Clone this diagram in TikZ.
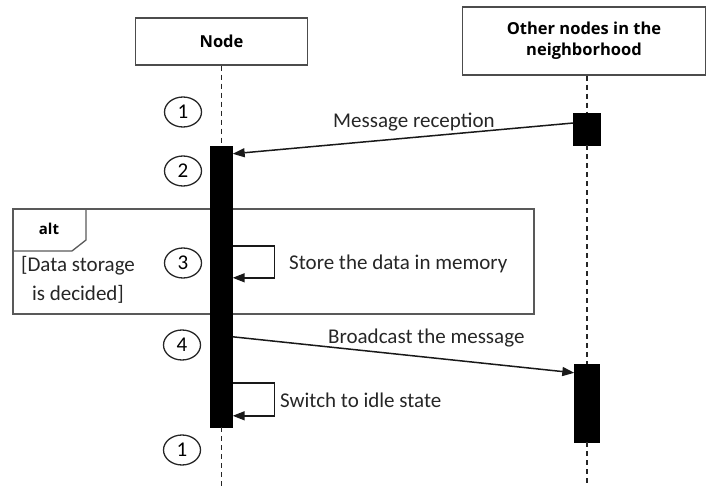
\documentclass[tikz,border=0pt]{standalone}
\usepackage{fontspec}
\setmainfont{Carlito}
\newfontfamily\hdr{Open Sans}
\usetikzlibrary{arrows.meta,shapes.geometric}
\begin{document}
\begin{tikzpicture}[x=1pt,y=-1pt,
 lifebox/.style={draw=black!70,line width=1.3pt,fill=white,inner sep=0,
   font=\hdr\bfseries\fontsize{16.5}{21}\selectfont,align=center},
 life/.style={dash pattern=on 5pt off 4pt,line width=1.7pt,draw=black!85},
 act/.style={fill=black,draw=black,inner sep=0},
 num/.style={ellipse,draw=black!85,line width=1.3pt,minimum width=37pt,minimum height=30pt,
   inner sep=0,font=\fontsize{21}{24}\selectfont},
 msg/.style={line width=1.5pt,draw=black!90,-{Triangle[length=12pt,width=9pt]}},
 lbl/.style={font=\fontsize{21}{24}\selectfont,inner sep=0,text=black!85},
 frame/.style={draw=black!65,line width=1.3pt}]
\useasboundingbox (0,0) rectangle (707,487);
\coordinate (bot) at (0,487);
% alt frame
\draw[frame] (13,209) rectangle (534,314);
\draw[frame] (13,251) -- (72,251) -- (86,240) -- (86,209);
\node[font=\hdr\bfseries\fontsize{15}{18}\selectfont,inner sep=0] (alt) at (49,229) {alt};
\node[lbl,align=center,font=\fontsize{21}{29}\selectfont] (guard) at (78,280) {[Data storage\\is decided]};
% headers
\node[lifebox,minimum width=172pt,minimum height=47pt] (nodebox) at (221.5,41.5) {Node};
\node[lifebox,minimum width=243pt,minimum height=68pt] (otherbox) at (584,41) {Other nodes in the\\neighborhood};
% activations
\node[act,minimum width=22pt,minimum height=281pt] (actN) at (221.5,286.5) {};
\node[act,minimum width=27pt,minimum height=32pt] (actO1) at (587,129) {};
\node[act,minimum width=25pt,minimum height=78pt] (actO2) at (587,403) {};
% lifelines
\draw[life] (nodebox.south -| actN.north) -- (actN.north);
\draw[life] (actN.south) -- (actN.south |- bot);
\draw[life] (otherbox.south -| actO1.north) -- (actO1.north);
\draw[life] (actO1.south) -- (actO2.north);
\draw[life] (actO2.south) -- (actO2.south |- bot);
% step numbers
\node[num] (n1) at (183,112) {1};
\node[num] (n2) at (183,171) {2};
\node[num] (n3) at (183,263) {3};
\node[num] (n4) at (182,345) {4};
\node[num] (n1b) at (182,450) {1};
% messages
\draw[msg] ([yshift=6pt]actO1.west) -- ([yshift=-8pt]actN.north east);
\node[lbl,anchor=base west] (mrec) at (333,128) {Message reception};
\draw[msg] ([yshift=-100pt]actN.north east) -- ++(42,0) |- ([yshift=-132pt]actN.north east);
\node[lbl,anchor=base west] (store) at (289,269) {Store the data in memory};
\draw[msg] ([yshift=-191pt]actN.north east) -- ([yshift=-9pt]actO2.north west);
\node[lbl,anchor=base west] (bcast) at (328,343) {Broadcast the message};
\draw[msg] ([yshift=-237pt]actN.north east) -- ++(42,0) |- ([yshift=-270pt]actN.north east);
\node[lbl,anchor=base west] (idle) at (280,407) {Switch to idle state};
\end{tikzpicture}
\end{document}
